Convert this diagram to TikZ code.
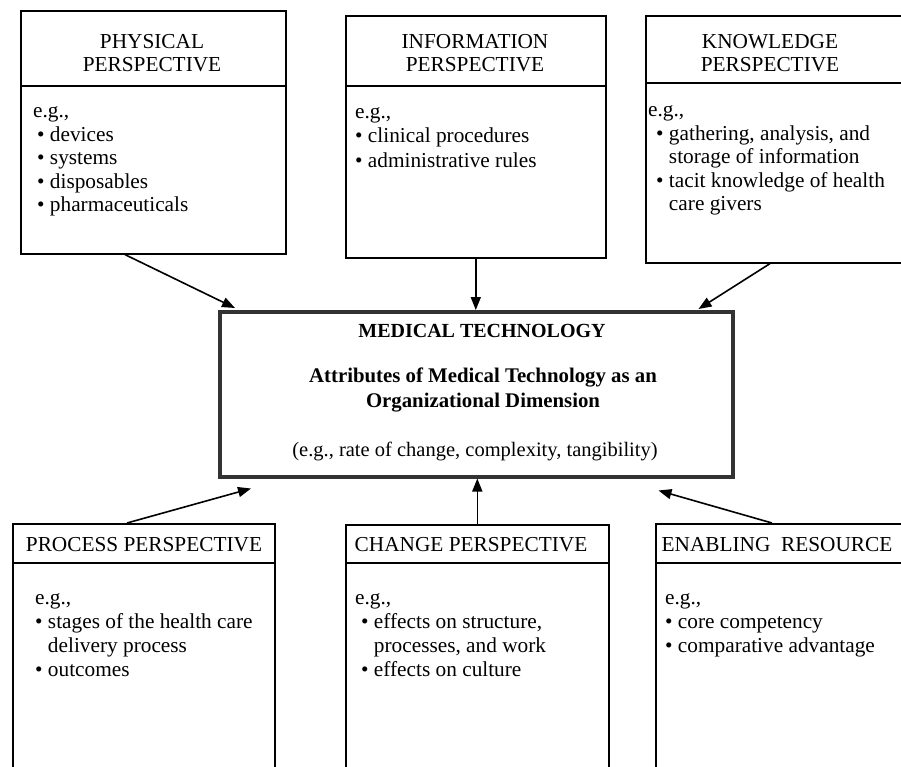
\documentclass[tikz,border=0pt]{standalone}
\usepackage{fontspec}
\setmainfont{Liberation Serif}
\usetikzlibrary{arrows.meta,calc}
\begin{document}
\begin{tikzpicture}[x=1pt,y=-1pt,
  box/.style={draw=black, line width=1.6pt, anchor=north west, inner sep=0pt},
  medbox/.style={draw=black!80, line width=3.5pt, anchor=north west, inner sep=0pt, minimum width=513pt, minimum height=165pt},
  head/.style={font=\fontsize{21.3}{22.5}\selectfont, align=center, inner sep=0pt},
  body/.style={font=\fontsize{21.3}{23.5}\selectfont, align=left, anchor=north west, inner sep=0pt},
  medtitle/.style={font=\bfseries\fontsize{20}{22}\selectfont, inner sep=0pt},
  medsub/.style={font=\bfseries\fontsize{20.8}{24.5}\selectfont, align=center, inner sep=0pt},
  medtext/.style={font=\fontsize{20.5}{22}\selectfont, inner sep=0pt},
  arr/.style={line width=1.6pt, -{Triangle[length=13pt,width=10pt]}},
  divider/.style={line width=1.6pt}]
\useasboundingbox (0,0) rectangle (901,767);
\clip (0,0) rectangle (901,767);
\fill[white] (0,0) rectangle (901,767);
% top boxes
\node[box, minimum width=265pt, minimum height=243pt] (phys) at (20,10) {};
\draw[divider] ($(phys.north west)+(0,76)$) -- ($(phys.north east)+(0,76)$);
\node[box, minimum width=260pt, minimum height=242pt] (info) at (345,15) {};
\draw[divider] ($(info.north west)+(0,71)$) -- ($(info.north east)+(0,71)$);
\node[box, minimum width=300pt, minimum height=247pt] (know) at (645,15) {};
\draw[divider] ($(know.north west)+(0,68)$) -- ($(know.north east)+(0,68)$);
% headers
\node[head] (physh) at (152,53) {PHYSICAL\\PERSPECTIVE};
\node[head] (infoh) at (475,53) {INFORMATION\\PERSPECTIVE};
\node[head] (knowh) at (770,53) {KNOWLEDGE\\PERSPECTIVE};
% bodies
\node[body] (physb) at (33,101) {\strut e.g.,\\
  \hspace*{4pt}\textbullet\ devices\\
  \hspace*{4pt}\textbullet\ systems\\
  \hspace*{4pt}\textbullet\ disposables\\
  \hspace*{4pt}\textbullet\ pharmaceuticals};
\node[body, font=\fontsize{21.3}{24.5}\selectfont] (infob) at (355,101) {\strut e.g.,\\
  \textbullet\ clinical procedures\\
  \textbullet\ administrative rules};
\node[body] (knowb) at (648,100) {\strut e.g.,\\
  \hspace*{8pt}\textbullet\ gathering, analysis, and\\
  \hspace*{8pt}\phantom{\textbullet\ }storage of information\\
  \hspace*{8pt}\textbullet\ tacit knowledge of health\\
  \hspace*{8pt}\phantom{\textbullet\ }care givers};
% centre box
\node[medbox] (med) at (218,310) {};
\node[medtitle] (medt) at (482,331) {MEDICAL TECHNOLOGY};
\node[medsub] (meds) at (483,390) {Attributes of Medical Technology as an\\Organizational Dimension};
\node[medtext] (mede) at (475,451) {(e.g., rate of change, complexity, tangibility)};
% bottom boxes
\node[box, minimum width=262pt, minimum height=300pt] (proc) at (12,523) {};
\draw[divider] ($(proc.north west)+(0,40)$) -- ($(proc.north east)+(0,40)$);
\node[box, minimum width=263pt, minimum height=300pt] (chg) at (345,524) {};
\draw[divider] ($(chg.north west)+(0,39)$) -- ($(chg.north east)+(0,39)$);
\node[box, minimum width=300pt, minimum height=300pt] (enab) at (655,523) {};
\draw[divider] ($(enab.north west)+(0,40)$) -- ($(enab.north east)+(0,40)$);
\node[head] (proch) at (144,545) {PROCESS PERSPECTIVE};
\node[head] (chgh) at (471,545) {CHANGE PERSPECTIVE};
\node[head] (enabh) at (777,545) {ENABLING\ \ RESOURCE};
\node[body, font=\fontsize{21.3}{24}\selectfont] (procb) at (35,587) {\strut e.g.,\\
  \textbullet\ stages of the health care\\
  \phantom{\textbullet\ }delivery process\\
  \textbullet\ outcomes};
\node[body, font=\fontsize{21.3}{24}\selectfont] (chgb) at (355,587) {\strut e.g.,\\
  \hspace*{6pt}\textbullet\ effects on structure,\\
  \hspace*{6pt}\phantom{\textbullet\ }processes, and work\\
  \hspace*{6pt}\textbullet\ effects on culture};
\node[body, font=\fontsize{21.3}{24}\selectfont] (enabb) at (665,587) {\strut e.g.,\\
  \textbullet\ core competency\\
  \textbullet\ comparative advantage};
% connectors
\draw[arr] ([xshift=105pt]phys.south west) -- ([xshift=17pt,yshift=2pt]med.north west);
\draw[arr] (info.south) -- (info.south |- med.north);
\draw[arr] ([xshift=125pt]know.south west) -- ([xshift=-36pt,yshift=1pt]med.north east);
\draw[arr] ([xshift=115pt]proc.north west) -- ([xshift=33pt,yshift=-10pt]med.south west);
\draw[arr] (chg.north) -- (chg.north |- med.south);
\draw[arr] ([xshift=117pt]enab.north west) -- ([xshift=-76pt,yshift=-12pt]med.south east);
\end{tikzpicture}
\end{document}
